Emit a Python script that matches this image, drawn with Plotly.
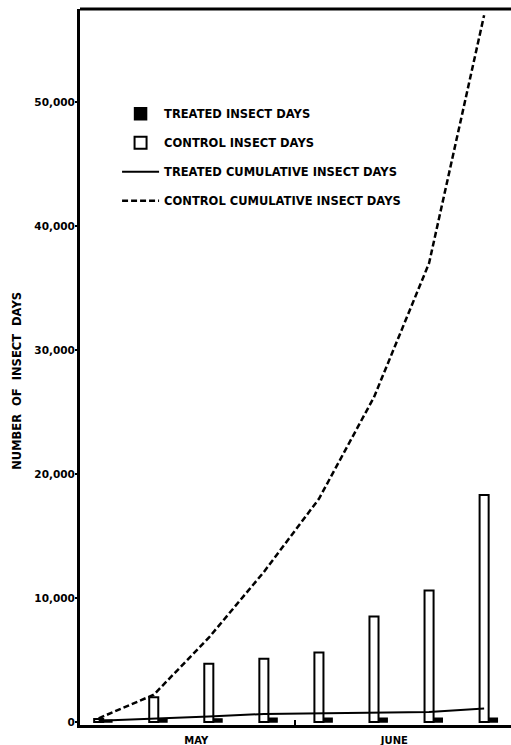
import plotly.graph_objects as go

# Weekly sampling dates
sample_dates = ["1960-05-07", "1960-05-14", "1960-05-21", "1960-05-28",
                "1960-06-04", "1960-06-11", "1960-06-18", "1960-06-25"]

# Insect days per sampling interval
control_days = [250, 2000, 4700, 5100, 5600, 8500, 10600, 18300]
treated_days = [150, 200, 250, 300, 300, 300, 300, 300]

# Running totals
treated_cumulative = [100, 250, 450, 650, 700, 750, 800, 1100]
control_cumulative = [300, 2200, 6800, 12100, 18000, 26200, 37000, 57000]

month_positions = ["1960-05-19 10:00", "1960-06-13 14:00"]
month_labels = ["MAY", "JUNE"]
y_ticks = [0, 10000, 20000, 30000, 40000, 50000]

DAY_MS = 86400000
FONT = "DejaVu Sans"
bar_w = 1.15 * DAY_MS

fig = go.Figure()

fig.add_trace(go.Bar(
    x=sample_dates, y=treated_days, name="TREATED INSECT DAYS",
    legendgroup="g1",
    width=[1.1 * DAY_MS] * len(sample_dates),
    offset=[bar_w / 2] * len(sample_dates),
    marker=dict(color="black", line=dict(color="black", width=1.5)),
))
fig.add_trace(go.Bar(
    x=sample_dates, y=control_days, name="CONTROL INSECT DAYS",
    legendgroup="g2",
    width=[bar_w] * len(sample_dates),
    offset=[-bar_w / 2] * len(sample_dates),
    marker=dict(color="white", line=dict(color="black", width=2)),
))
fig.add_trace(go.Scatter(
    x=sample_dates, y=treated_cumulative, name="TREATED CUMULATIVE INSECT DAYS",
    legendgroup="g3",
    mode="lines", line=dict(color="black", width=2),
))
fig.add_trace(go.Scatter(
    x=sample_dates, y=control_cumulative, name="CONTROL CUMULATIVE INSECT DAYS",
    legendgroup="g4",
    mode="lines", line=dict(color="black", width=2.5, dash="6px,3px"),
))

fig.update_layout(
    width=511, height=745,
    margin=dict(l=80, r=0, t=9, b=20),
    paper_bgcolor="white", plot_bgcolor="white",
    barmode="overlay",
    font=dict(family=FONT, color="black", size=10, weight="bold"),
    showlegend=True,
    legend=dict(
        x=0.086, y=0.874, xanchor="left", yanchor="top",
        bgcolor="rgba(0,0,0,0)", borderwidth=0,
        font=dict(family=FONT, size=11.5, color="black", weight="bold"),
        traceorder="grouped", tracegroupgap=10, itemwidth=37,
    ),
    xaxis=dict(
        type="date",
        range=["1960-05-04 15:00", "1960-06-28 10:00"],
        tickmode="array", tickvals=month_positions, ticktext=month_labels,
        ticks="", showgrid=False, zeroline=False,
        showline=True, linecolor="black", linewidth=3,
        ticklabelstandoff=4,
        tickfont=dict(family=FONT, size=10, weight="bold"),
        minor=dict(tickmode="array", tickvals=["1960-06-01"], ticks="inside",
                   ticklen=5, tickwidth=1.5, tickcolor="black", showgrid=False),
    ),
    yaxis=dict(
        range=[-240, 57500],
        tickmode="array", tickvals=y_ticks, tickformat=",",
        ticks="outside", ticklen=2, tickwidth=2, tickcolor="black",
        ticklabelstandoff=-2,
        showgrid=False, zeroline=False,
        showline=True, linecolor="black", linewidth=3,
        tickfont=dict(family=FONT, size=10.5, weight="bold"),
    ),
    shapes=[dict(type="line", xref="paper", yref="paper", x0=0, x1=1, y0=1, y1=1,
                 line=dict(color="black", width=3))],
    annotations=[dict(
        text="NUMBER\u00a0\u00a0OF\u00a0\u00a0INSECT\u00a0\u00a0DAYS", textangle=-90,
        xref="paper", yref="paper", x=-0.145, y=0.48,
        xanchor="center", yanchor="middle", showarrow=False,
        font=dict(family=FONT, size=11.5, weight="bold"),
    )],
)

fig.write_html("out.html")
